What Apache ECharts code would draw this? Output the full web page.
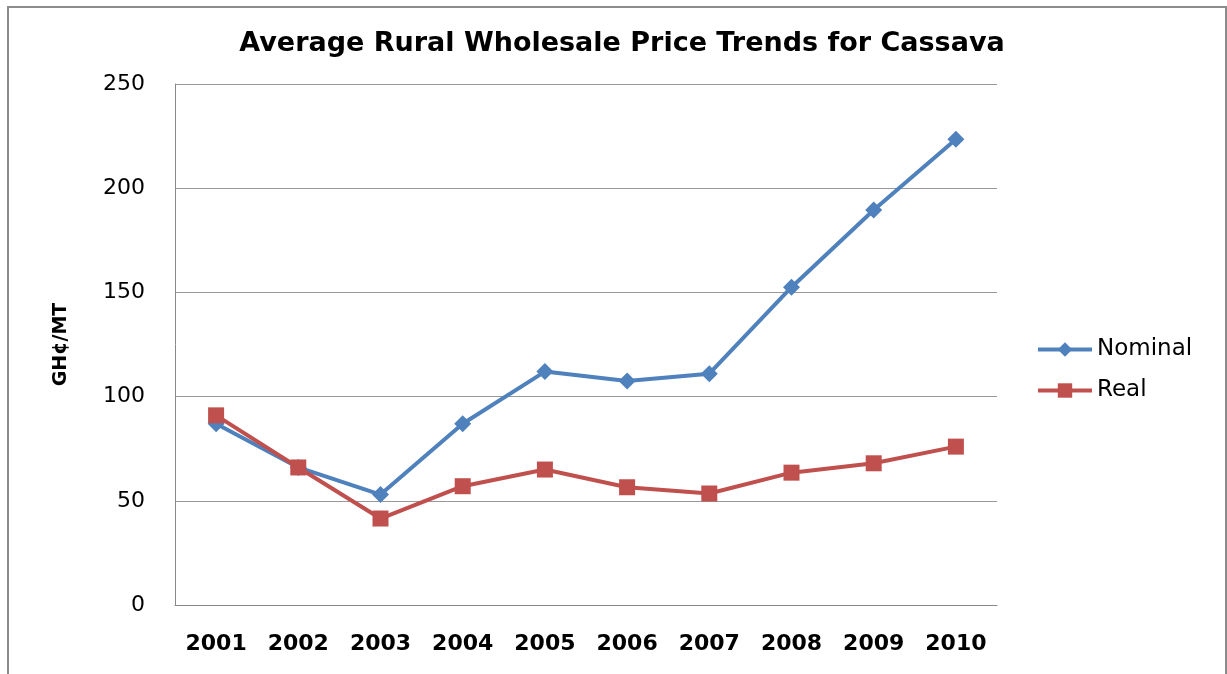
<!DOCTYPE html>
<html>
<head>
<meta charset="utf-8">
<script src="https://cdn.jsdelivr.net/npm/echarts@6/dist/echarts.min.js"></script>
<style>
  html, body { margin: 0; padding: 0; background: #fff; }
  #chart { width: 1227px; height: 674px; }
</style>
</head>
<body>
<div id="chart"></div>
<script>
const years = ["2001", "2002", "2003", "2004", "2005", "2006", "2007", "2008", "2009", "2010"];
const nominal = [87, 66, 53, 87, 112, 107.5, 111, 152.5, 189.5, 223.5];
const real = [91, 66, 41.5, 57, 65, 56.5, 53.5, 63.5, 68, 76];

const chart = echarts.init(document.getElementById("chart"));

chart.setOption({
  animation: false,
  textStyle: { fontFamily: "DejaVu Sans" },
  title: {
    text: "Average Rural Wholesale Price Trends for Cassava",
    left: 617,
    top: 25,
    textAlign: "center",
    textStyle: { fontSize: 27, fontWeight: "bold", color: "#000", fontFamily: "DejaVu Sans" }
  },
  // outer frame
  graphic: [
    {
      type: "rect",
      shape: { x: 8, y: 7, width: 1218, height: 700 },
      style: { fill: "none", stroke: "#8c8c8c", lineWidth: 2 },
      silent: true
    }
  ],
  legend: {
    orient: "vertical",
    left: 1031,
    top: 333,
    itemWidth: 54,
    itemHeight: 18,
    itemGap: 18,
    lineStyle: { width: 4 },
    textStyle: { fontSize: 23, color: "#000" },
    data: ["Nominal", "Real"]
  },
  grid: { left: 175, right: 230, top: 84, bottom: 69 },
  xAxis: {
    type: "category",
    data: years,
    boundaryGap: true,
    axisLine: { lineStyle: { color: "#888", width: 1 } },
    axisTick: { show: false },
    axisLabel: { fontSize: 22, fontWeight: "bold", color: "#000", margin: 28 }
  },
  yAxis: {
    type: "value",
    min: 0,
    max: 250,
    interval: 50,
    name: "GH¢/MT",
    nameLocation: "middle",
    nameGap: 104,
    nameRotate: 90,
    nameTextStyle: { fontSize: 19, fontWeight: "bold", color: "#000" },
    axisLine: { show: true, lineStyle: { color: "#888", width: 1 } },
    axisTick: { show: false },
    axisLabel: { fontSize: 22, color: "#000", margin: 30 },
    splitLine: { lineStyle: { color: "#999", width: 1 } }
  },
  series: [
    {
      name: "Nominal",
      type: "line",
      data: nominal,
      color: "#4F81BD",
      symbol: "diamond",
      symbolSize: 17,
      lineStyle: { width: 4 }
    },
    {
      name: "Real",
      type: "line",
      data: real,
      color: "#C0504D",
      symbol: "rect",
      symbolSize: 16,
      lineStyle: { width: 4 }
    }
  ]
});
</script>
</body>
</html>
